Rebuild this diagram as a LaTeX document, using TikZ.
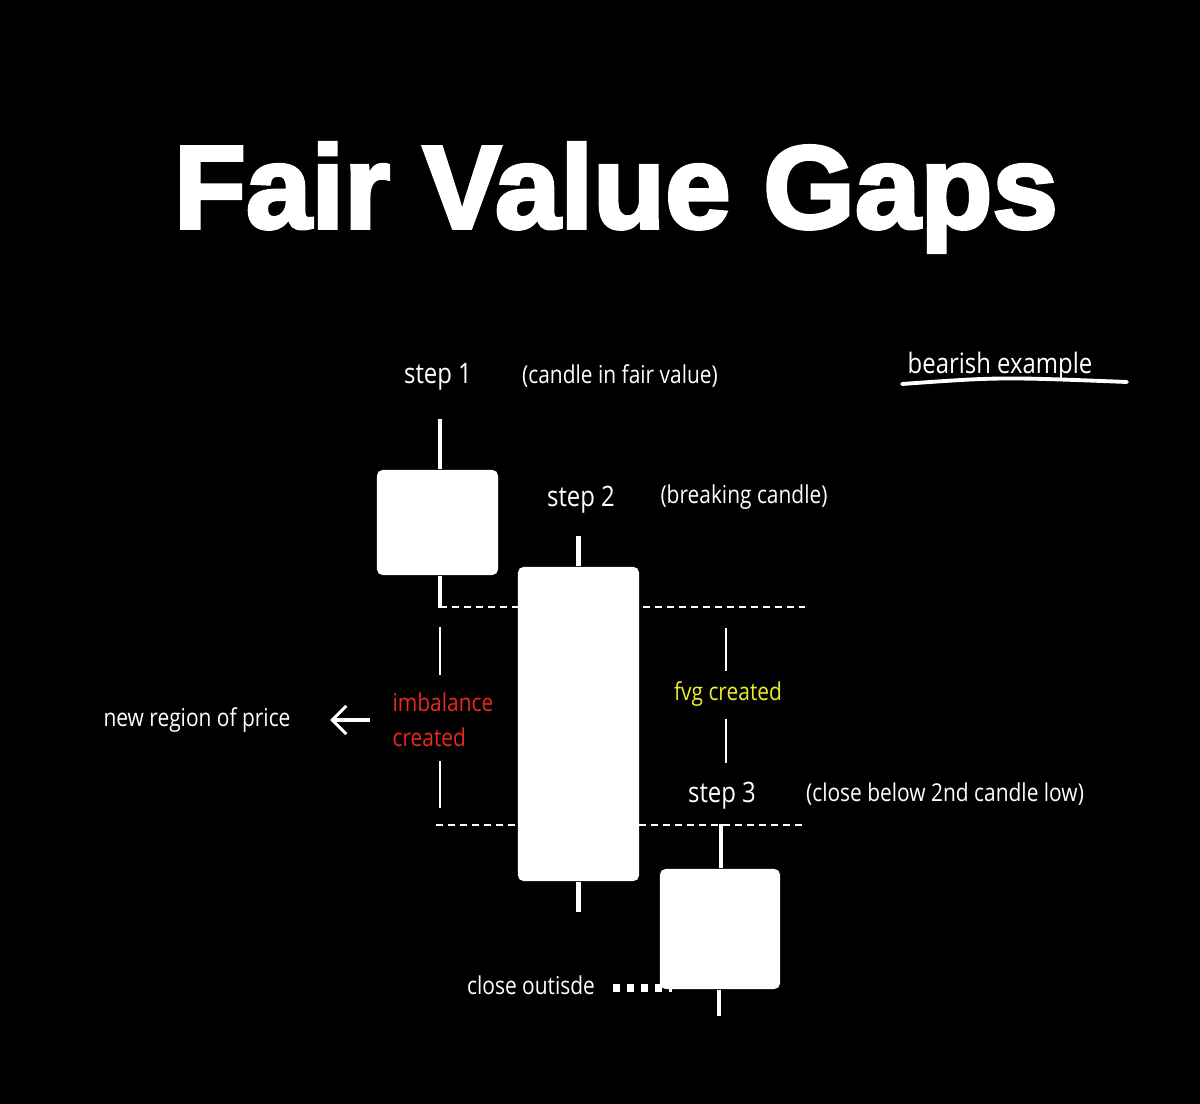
\documentclass[tikz,border=0pt]{standalone}
\usepackage{fontspec}
\usepackage{xcolor}
\usetikzlibrary{positioning, arrows.meta, calc}
\setmainfont{Liberation Sans}
\newfontfamily\titlefont[FakeBold=3]{Liberation Sans Bold}
\newfontfamily\handfont[FakeStretch=0.85]{Open Sans}
\definecolor{FVGRed}{RGB}{232,42,30}
\definecolor{FVGYellow}{RGB}{236,236,48}

\begin{document}
\begin{tikzpicture}[x=0.01cm, y=-0.01cm,
      candle/.style={rectangle, rounded corners=1.6pt, fill=white,
                     minimum width=1.21cm, inner sep=0pt},
      wick/.style={white, line width=1.2pt},
      level/.style={white, line width=0.5pt, dash pattern=on 2pt off 1.4pt},
      tick/.style={white, line width=0.5pt},
      hand/.style={font=\handfont\fontsize{7}{8}\selectfont, text=white,
                   inner sep=0pt},
      steplbl/.style={hand, font=\handfont\fontsize{8}{9}\selectfont},
      pointer/.style={-{Straight Barb[length=4pt, width=8pt]}, white,
                      line width=0.9pt}
    ]
    % Canvas
    \fill[black] (0,0) rectangle (1200,1104);

    % Title
    \node[font=\titlefont\fontsize{33.5}{38}\selectfont, text=white,
          anchor=base, inner sep=0pt] (title) at (616,228) {Fair Value Gaps};

    % Gap levels (behind the candles)
    \coordinate (hiL) at (440,607);
    \coordinate (hiR) at (805,607);
    \coordinate (loL) at (436,825);
    \coordinate (loR) at (805,825);
    \draw[level] (hiL) -- (hiR);
    \draw[level] (loL) -- (loR);

    % Candles
    \node[candle, minimum height=1.05cm] (c1) at (437.5,522.5) {};
    \node[candle, minimum height=3.14cm] (c2) at (578.5,724) {};
    \node[candle, minimum height=1.2cm, minimum width=1.2cm] (c3) at (720,929) {};
    \draw[wick] ([xshift=0.025cm]c1.north) -- ++(0,-50);
    \draw[wick] ([xshift=0.025cm]c1.south) -- ++(0,32);
    \draw[wick] (c2.north) -- ++(0,-30);
    \draw[wick] (c2.south) -- ++(0,30);
    \draw[wick] ([xshift=0.01cm]c3.north) -- ++(0,-44);
    \draw[wick] ([xshift=-0.01cm]c3.south) -- ++(0,26);

    % Step labels
    \node[steplbl] (s1) at (438,377) {step 1};
    \node[hand] (s1txt) at (620,376) {(candle in fair value)};
    \node[steplbl] (s2) at (581,500) {step 2};
    \node[hand] (s2txt) at (744,497) {(breaking candle)};
    \node[steplbl] (s3) at (722,796) {step 3};
    \node[hand] (s3txt) at (945,794) {(close below 2nd candle low)};

    % Bearish example
    \node[steplbl] (bear) at (1000,366) {bearish example};
    \draw[white, line width=1.1pt, line cap=round]
          (902,384) .. controls (1000,377) .. (1127,382);

    % Imbalance / fvg brackets
    \foreach \x/\a/\b in {440/627/675, 440/761/808, 726/628/671, 726/719/763} {
      \draw[tick] (\x,\a) -- (\x,\b);
    }
    \node[hand, text=FVGRed, align=left] (imb) at (443,720) {imbalance\\[2pt]created};
    \node[hand, text=FVGYellow] (fvg) at (728,694) {fvg created};

    % New region of price
    \node[hand] (region) at (197,720) {new region of price};
    \coordinate (arrtail) at (370,720);
    \draw[pointer] (arrtail) -- ++(-40,0);

    % Close outside
    \node[hand] (close) at (531,985) {close outisde};
    \coordinate (dotend) at (672,988);
    \draw[white, line width=2pt, dash pattern=on 2pt off 2pt]
          (613,988) -- (dotend);
  \end{tikzpicture}
\end{document}
